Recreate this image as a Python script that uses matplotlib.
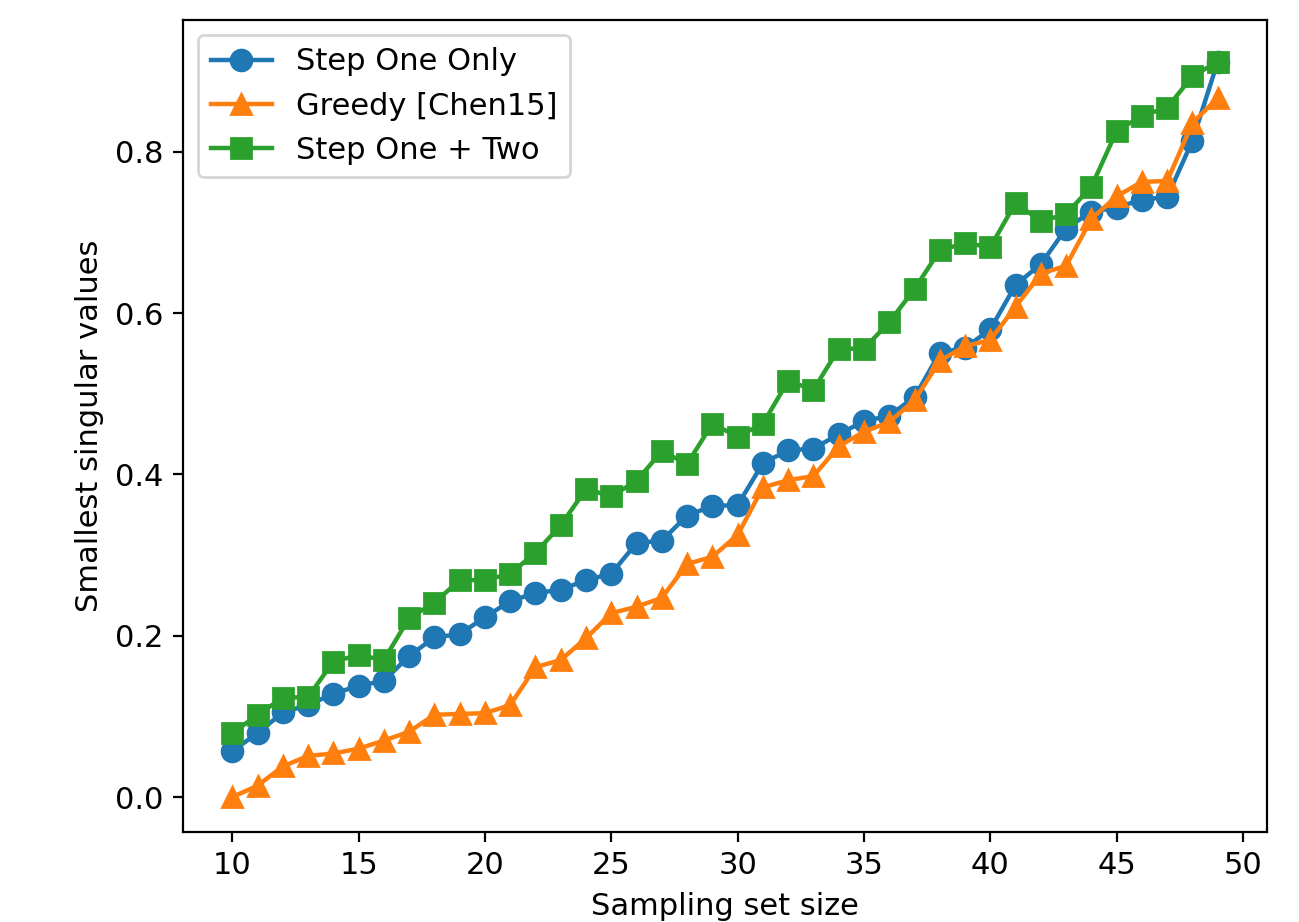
import numpy as np
import matplotlib
matplotlib.use('Agg')
import matplotlib.pyplot as plt

# Sampling set sizes
sizes = np.arange(10, 50)

step_one = [0.057, 0.079, 0.105, 0.114, 0.128, 0.138, 0.144, 0.175, 0.198, 0.202,
            0.223, 0.243, 0.253, 0.257, 0.269, 0.277, 0.315, 0.318, 0.349, 0.361,
            0.362, 0.414, 0.430, 0.432, 0.450, 0.466, 0.473, 0.496, 0.551, 0.557,
            0.580, 0.635, 0.661, 0.705, 0.726, 0.731, 0.741, 0.744, 0.814, 0.912]

greedy = [0.000, 0.014, 0.038, 0.051, 0.054, 0.060, 0.070, 0.081, 0.102, 0.103,
          0.104, 0.114, 0.161, 0.170, 0.197, 0.228, 0.236, 0.247, 0.289, 0.298,
          0.325, 0.384, 0.393, 0.398, 0.435, 0.453, 0.465, 0.492, 0.541, 0.559,
          0.567, 0.608, 0.649, 0.659, 0.717, 0.745, 0.763, 0.764, 0.836, 0.867]

step_one_two = [0.079, 0.102, 0.123, 0.124, 0.168, 0.176, 0.170, 0.222, 0.241, 0.269,
                0.269, 0.277, 0.303, 0.337, 0.382, 0.373, 0.392, 0.429, 0.413, 0.463,
                0.447, 0.463, 0.516, 0.505, 0.556, 0.556, 0.589, 0.630, 0.678, 0.687,
                0.682, 0.737, 0.714, 0.723, 0.757, 0.826, 0.845, 0.855, 0.894, 0.912]

plt.rcParams['font.size'] = 11
plt.rcParams['lines.linewidth'] = 1.6

fig = plt.figure(figsize=(1299 / 200, 922 / 200), dpi=200)
ax = fig.add_axes([183 / 1299, 1 - 832 / 922, (1267 - 183) / 1299, (832 - 20) / 922])

ax.plot(sizes, step_one, marker='o', markersize=7.5, label='Step One Only')
ax.plot(sizes, greedy, marker='^', markersize=7.5, label='Greedy [Chen15]')
ax.plot(sizes, step_one_two, marker='s', markersize=7, label='Step One + Two')

ax.set_xlabel('Sampling set size')
ax.set_ylabel('Smallest singular values')
ax.set_xticks([10, 15, 20, 25, 30, 35, 40, 45, 50])
ax.set_yticks([0.0, 0.2, 0.4, 0.6, 0.8])
ax.set_xlim(8.05, 50.95)
ax.set_ylim(-0.0434, 0.9637)
ax.legend(loc='upper left')

plt.savefig('out.png', dpi=200, facecolor='white')
plt.close()
